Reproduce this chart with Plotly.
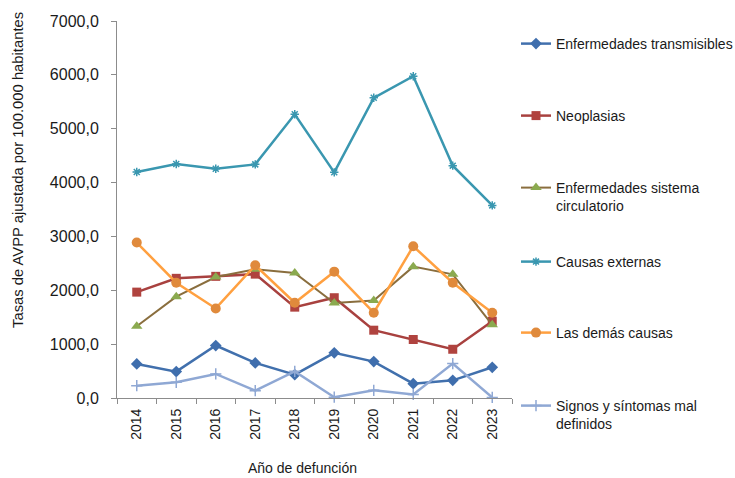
import plotly.graph_objects as go

# Años de defunción (eje de categorías)
years = ["2014", "2015", "2016", "2017", "2018", "2019", "2020", "2021", "2022", "2023"]

# Tasas de AVPP ajustadas por 100.000 habitantes, por grupo de causas
transmisibles = [633, 490, 974, 652, 434, 838, 676, 266, 328, 570]
neoplasias = [1966, 2222, 2259, 2300, 1687, 1862, 1259, 1086, 905, 1426]
circulatorio = [1333, 1881, 2246, 2389, 2320, 1762, 1812, 2439, 2296, 1359]
causas_externas = [4197, 4345, 4258, 4338, 5268, 4190, 5574, 5974, 4314, 3576]
demas_causas = [2886, 2141, 1663, 2464, 1769, 2346, 1583, 2817, 2141, 1583]
signos_sintomas = [229, 291, 447, 136, 495, 15, 142, 67, 639, 10]

series = [
    ("Enfermedades transmisibles", transmisibles, "#4170AD", "#3F6EAD", "diamond", 9, 2.5),
    ("Neoplasias", neoplasias, "#A8413F", "#B0433F", "square", 9, 2.5),
    ("Enfermedades sistema<br>circulatorio", circulatorio, "#8A6E3E", "#8BAA4F", "triangle-up", 10, 2),
    ("Causas externas", causas_externas, "#3A97B0", "#3A97B0", "asterisk-open", 7, 2.5),
    ("Las demás causas", demas_causas, "#FFA040", "#E08A3C", "circle", 10, 2.5),
    ("Signos y síntomas mal<br>definidos", signos_sintomas, "#8FA8D4", "#8FA8D4", "cross-thin-open", 8, 2.5),
]

# Posición vertical (px) de la primera línea de cada entrada de la leyenda
legend_rows = [44, 116, 188, 262, 333, 406]

W, H = 735, 478
L, R, T, B = 117, 223, 21, 80
plot_w, plot_h = W - L - R, H - T - B


def px_x(p):
    return (p - L) / plot_w


def px_y(p):
    return (H - B - p) / plot_h


fig = go.Figure()
layout_legends = {}
for i, (name, vals, lcol, mcol, sym, size, lw) in enumerate(series):
    key = "legend" if i == 0 else f"legend{i + 1}"
    marker = dict(symbol=sym, size=size, color=mcol)
    if sym.endswith("open"):
        marker["line"] = dict(color=mcol, width=1.5)
    fig.add_trace(go.Scatter(
        x=years, y=vals, name=name, mode="lines+markers",
        line=dict(color=lcol, width=lw), marker=marker,
        cliponaxis=False, legend=key, showlegend=True,
    ))
    layout_legends[key] = dict(
        x=px_x(516), y=px_y(legend_rows[i] - 16), xanchor="left", yanchor="top",
        xref="paper", yref="paper", valign="top", visible=True,
        font=dict(family="Liberation Sans, Arial, sans-serif", size=14, color="#1a1a1a"),
        bgcolor="rgba(0,0,0,0)", borderwidth=0,
    )

axis_color = "#8c8c8c"
fig.update_layout(
    width=W, height=H,
    margin=dict(l=L, r=R, t=T, b=B, autoexpand=False),
    paper_bgcolor="white", plot_bgcolor="white",
    showlegend=True,
    separators=",.",
    font=dict(family="Liberation Sans, Arial, sans-serif", size=14, color="#1a1a1a"),
    xaxis=dict(
        type="category", range=[-0.5, 9.5], tickangle=-90,
        showline=True, linecolor=axis_color, linewidth=1,
        ticks="outside", tickson="boundaries", ticklen=5, tickcolor=axis_color,
        showgrid=False, zeroline=False, ticklabelstandoff=4,
        tickfont=dict(size=14, color="#1a1a1a"),
    ),
    yaxis=dict(
        range=[0, 7000], dtick=1000, tickformat=".1f",
        showline=True, linecolor=axis_color, linewidth=1,
        ticks="outside", ticklen=5, tickcolor=axis_color,
        showgrid=False, zeroline=False, ticklabelstandoff=9,
        tickfont=dict(size=16, color="#1a1a1a"),
    ),
    annotations=[
        dict(text="Tasas de AVPP ajustada por 100.000 habitantes", textangle=-90,
             xref="paper", yref="paper", x=px_x(18), y=px_y(170),
             xanchor="center", yanchor="middle", showarrow=False,
             font=dict(size=14.8, color="#1a1a1a")),
        dict(text="Año de defunción",
             xref="paper", yref="paper", x=px_x(302), y=px_y(468),
             xanchor="center", yanchor="middle", showarrow=False,
             font=dict(size=14, color="#1a1a1a")),
    ],
    **layout_legends,
)

fig.write_html("out.html")
